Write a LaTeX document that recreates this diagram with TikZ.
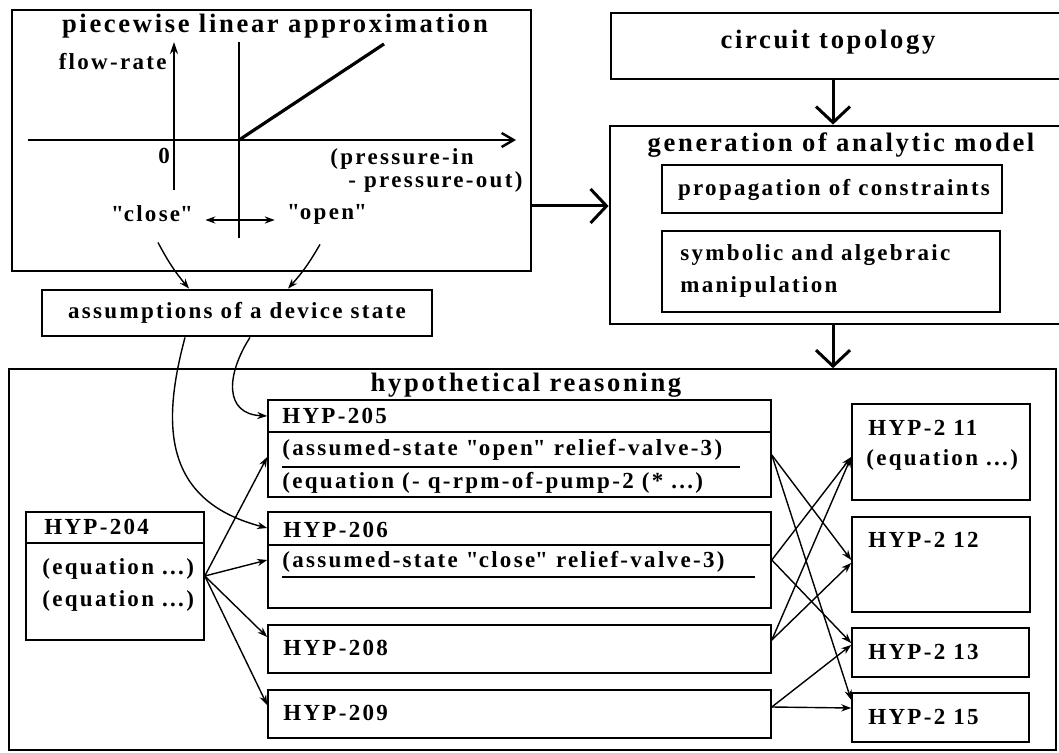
\documentclass[tikz,border=0pt]{standalone}
\usepackage{fontspec}
\setmainfont{Liberation Serif}[LetterSpace=10]
\usetikzlibrary{arrows.meta,fit,calc}

\tikzset{
  lbl/.style={font=\fontsize{11.5}{14}\selectfont\bfseries, inner sep=0pt},
  ttl/.style={font=\fontsize{13.3}{15}\selectfont\bfseries, inner sep=0pt},
  thickbox/.style={draw, line width=1.4pt, inner sep=0pt},
  hypbox/.style={draw, line width=0.8pt, inner sep=0pt},
  arr/.style={-{Stealth[length=5pt,width=3.6pt]}, line width=0.7pt},
  bigarr/.style={-{Straight Barb[length=8pt,width=17pt]}, line width=1.5pt},
}
\newcommand{\qq}{\textquotedbl}

\begin{document}
\begin{tikzpicture}[x=0.5pt,y=-0.5pt]
  \useasboundingbox (0,0) rectangle (1059,753);

  % piecewise linear approximation
  \node[thickbox, fit={(12,10) (531,271)}] (pla) {};
  \node[ttl] (plaT) at (275,26) {piecewise linear approximation};
  \node[lbl, anchor=east] (flow) at (167,62) {flow-rate};
  \node[lbl] (zero) at (164,156) {0};
  \node[lbl, font=\fontsize{11.5}{9}\selectfont\bfseries, anchor=north west, align=left] (press) at (330,148) {(pressure-in\\\hspace*{9pt}- pressure-out)};
  \draw[line width=1.2pt, -{Stealth[length=6pt,width=4pt]}] (174,190) -- (174,42);
  \draw[line width=1.2pt, -{Straight Barb[length=6pt,width=7pt]}] (28,140) -- (516,140);
  \draw[line width=1.2pt] (239,42) -- (239,238);
  \draw[line width=1.6pt] (239,140) -- (384,44);
  \node[lbl] (close) at (152,214) {\qq close\qq};
  \node[lbl] (open) at (327,214) {\qq open\qq};
  \draw[line width=0.7pt, {Stealth[length=5pt,width=3.6pt]}-{Stealth[length=5pt,width=3.6pt]}, shorten <=6pt, shorten >=6pt] ([yshift=-3pt]close.east) -- ([yshift=-3pt]open.west);

  \node[thickbox, fit={(42,290) (432,336)}] (asm) {};
  \node[lbl] (asmT) at (asm) {assumptions of a device state};
  \draw[arr] ([shift={(6,20)}]close.south) to[bend right=6] ([shift={(-48,0)}]asm.north);
  \draw[arr] ([shift={(-7,20)}]open.south) to[bend left=6] ([shift={(51,0)}]asm.north);

  % circuit topology / analytic model
  \node[thickbox, fit={(611,13) (1066,79)}] (ct) {};
  \node[ttl] (ctT) at (828,42) {circuit topology};
  \node[thickbox, fit={(610,126) (1066,324)}] (gen) {};
  \node[ttl] (genT) at (841,145) {generation of analytic model};
  \node[thickbox, fit={(662,165) (1002,213)}] (prop) {};
  \node[lbl] (propT) at (834,190) {propagation of constraints};
  \node[thickbox, fit={(662,231) (1000,312)}] (symb) {};
  \node[lbl, font=\fontsize{11.5}{16}\selectfont\bfseries, anchor=north west, align=left] (symbT) at (680,244) {symbolic and algebraic\\manipulation};

  \draw[bigarr] (ct.south -| 833,0) -- (gen.north -| 833,0);
  \draw[bigarr] (pla.east |- 0,206) -- (gen.west |- 0,206);

  % hypothetical reasoning
  \node[hypbox, fit={(9,369) (1056,750)}] (hyp) {};
  \node[ttl] (hypT) at (526,385) {hypothetical reasoning};
  \draw[bigarr] (gen.south -| 833,0) -- (hyp.north -| 833,0);

  \node[hypbox, fit={(26,512) (204,640)}] (h204) {};
  \draw[line width=0.8pt] (h204.west |- 0,543) -- (h204.east |- 0,543);
  \node[lbl, anchor=west] (h204a) at (44,527) {HYP-204};
  \node[lbl, anchor=west] (h204b) at (42,569) {(equation ...)};
  \node[lbl, anchor=west] (h204c) at (42,601) {(equation ...)};

  \node[hypbox, fit={(268,400) (771,497)}] (h205) {};
  \draw[line width=0.8pt] (h205.west |- 0,432) -- (h205.east |- 0,432);
  \node[lbl, anchor=west] (h205a) at (282,416) {HYP-205};
  \node[lbl, anchor=west] (h205b) at (282,450) {(assumed-state \qq open\qq{} relief-valve-3)};
  \draw[line width=0.6pt] (282,467) -- (740,467);
  \node[lbl, anchor=west] (h205c) at (282,483) {(equation (- q-rpm-of-pump-2 (* ...)};

  \node[hypbox, fit={(268,512) (771,608)}] (h206) {};
  \draw[line width=0.8pt] (h206.west |- 0,545) -- (h206.east |- 0,545);
  \node[lbl, anchor=west] (h206a) at (283,530) {HYP-206};
  \node[lbl, anchor=west] (h206b) at (282,562) {(assumed-state \qq close\qq{} relief-valve-3)};
  \draw[line width=0.6pt] (282,577) -- (755,577);

  \node[hypbox, fit={(268,625) (771,673)}] (h208) {};
  \node[lbl, anchor=west] (h208a) at (283,648) {HYP-208};
  \node[hypbox, fit={(268,690) (771,738)}] (h209) {};
  \node[lbl, anchor=west] (h209a) at (283,713) {HYP-209};

  \node[hypbox, fit={(852,404) (1030,500)}] (h211) {};
  \node[lbl, anchor=west] (h211a) at (868,428) {HYP-2 11};
  \node[lbl, anchor=west] (h211b) at (866,460) {(equation ...)};
  \node[hypbox, fit={(852,517) (1030,612)}] (h212) {};
  \node[lbl, anchor=west] (h212a) at (868,540) {HYP-2 12};
  \node[hypbox, fit={(852,628) (1029,677)}] (h213) {};
  \node[lbl, anchor=west] (h213a) at (868,652) {HYP-2 13};
  \node[hypbox, fit={(852,693) (1029,742)}] (h215) {};
  \node[lbl, anchor=west] (h215a) at (868,717) {HYP-2 15};

  % assumptions feed the new hypotheses
  \draw[arr] ([shift={(13,0)}]asm.south) .. controls (226,375) and (224,414) .. (h205.west |- 0,416);
  \draw[arr] ([shift={(-52,0)}]asm.south) .. controls (163,420) and (160,500) .. (h206.west |- 0,528);

  \draw[arr] (h204.east) -- (h205.west |- 0,457);
  \draw[arr] (h204.east) -- (h206.west |- 0,560);
  \draw[arr] (h204.east) -- (h208.west |- 0,637);
  \draw[arr] (h204.east) -- (h209.west |- 0,705);

  \draw[arr] (h205.east |- 0,455) -- (h212.west |- 0,560);
  \draw[arr] (h205.east |- 0,455) -- (h215.west |- 0,700);
  \draw[arr] (h206.east |- 0,560) -- (h211.west |- 0,457);
  \draw[arr] (h206.east |- 0,560) -- (h213.west |- 0,643);
  \draw[arr] (h208.east |- 0,640) -- (h211.west |- 0,457);
  \draw[arr] (h208.east |- 0,640) -- (h212.west |- 0,563);
  \draw[arr] (h209.east |- 0,707) -- (h213.west |- 0,645);
  \draw[arr] (h209.east |- 0,707) -- (h215.west |- 0,708);
\end{tikzpicture}
\end{document}
